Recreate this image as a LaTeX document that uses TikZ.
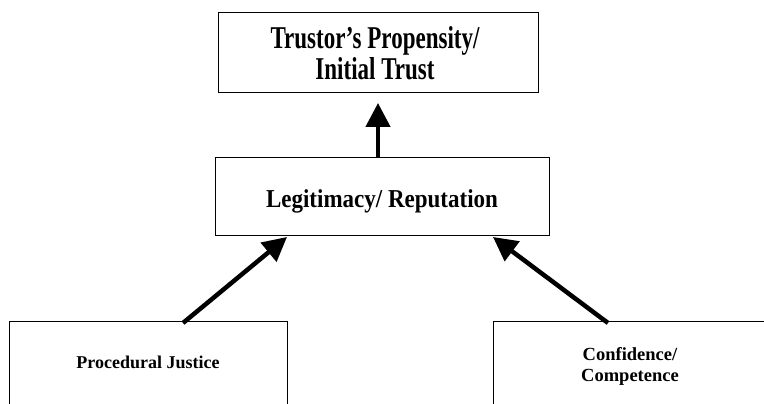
\documentclass[tikz,border=0pt]{standalone}
\usepackage{fontspec}
\usepackage{graphicx}
\setmainfont{Liberation Serif}
\usetikzlibrary{arrows.meta}
\begin{document}
\begin{tikzpicture}[x=1pt,y=1pt,
  box/.style={draw,line width=1pt,inner sep=0pt},
  label/.style={inner sep=0pt,align=center},
  bigarrow/.style={line width=4.5pt,-{Triangle[width=24pt,length=24pt]}}]
\useasboundingbox (0,0) rectangle (764,404);
\node[box,minimum width=320pt,minimum height=80pt] (top) at (378,351) {};
\node[box,minimum width=334pt,minimum height=78pt] (mid) at (382,207) {};
\node[label] (toptext) at (375,347) {\scalebox{1}[1.38]{\fontsize{23}{19.6}\selectfont\bfseries
  \begin{tabular}{@{}c@{}}Trustor’s Propensity/\\Initial Trust\end{tabular}}};
\node[label,anchor=base] (midtext) at (382,196) {\scalebox{1}[1.12]{\fontsize{23}{26}\selectfont\bfseries Legitimacy/ Reputation}};
\draw[line width=1pt] (9,-5) |- (287,82) -- (287,-5);
\draw[line width=1pt] (493,-5) |- (775,82);
\node[label,anchor=base,font=\bfseries\fontsize{18}{21}\selectfont] (pj) at (148,35) {Procedural Justice};
\node[label,font=\bfseries\fontsize{18.5}{21}\selectfont] (cc) at (630,38) {Confidence/\\Competence};
\coordinate (pjout) at (183,81);
\coordinate (ccout) at (608,81);
\coordinate (midl) at (287,167);
\coordinate (midr) at (493,167);
\draw[bigarrow] (pjout) -- (midl);
\draw[bigarrow] (ccout) -- (midr);
\draw[bigarrow] (mid.north -| top.south) -- (top.south |- 0,301);
\end{tikzpicture}
\end{document}
